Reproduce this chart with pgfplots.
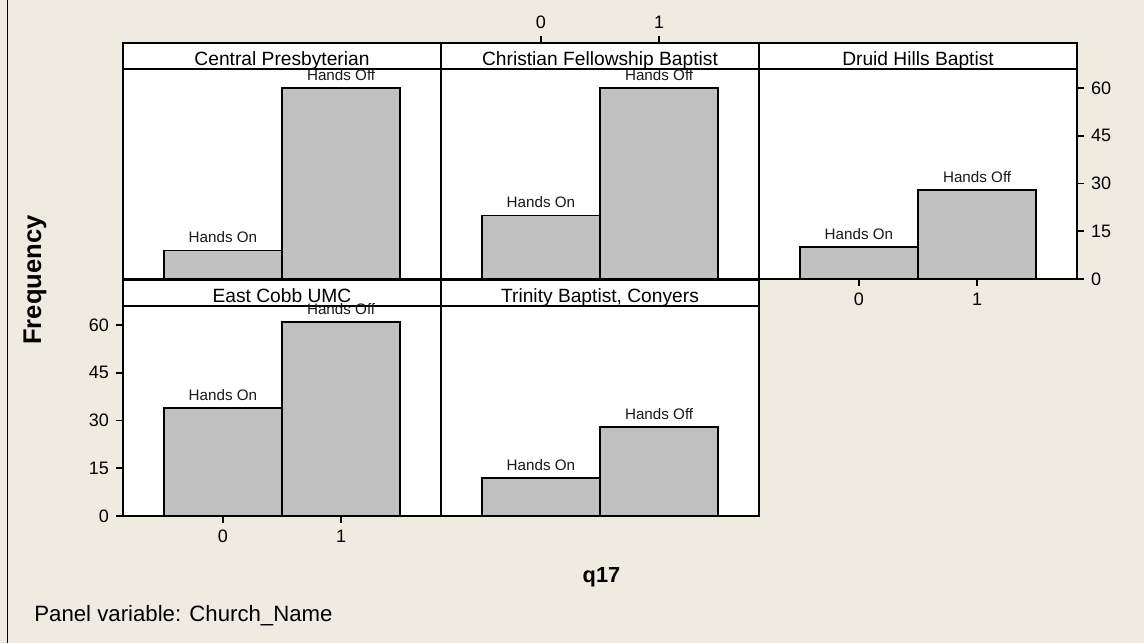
\documentclass[border=0pt]{standalone}
\usepackage{fontspec}
\setmainfont{Liberation Sans}
\usepackage{pgfplots}
\pgfplotsset{compat=1.18}
\definecolor{bg}{RGB}{239,235,224}
\definecolor{barc}{RGB}{192,192,192}
\pgfplotsset{
 panel/.style={
   scale only axis, width=159pt, height=118pt,
   xmin=-0.845, xmax=1.845, ymin=0, ymax=74.2,
   axis line style={line width=0.9pt},
   axis background/.style={fill=white},
   xtick=\empty, ytick=\empty,
   tick align=outside, major tick length=3.5pt,
   tick style={line width=0.9pt, black},
   ticklabel style={font=\fontsize{9}{10}\selectfont},
   /pgf/number format/assume math mode=true,
   ybar, bar width=1, bar shift=0pt,
   clip=false,
   nodes near coords, point meta=explicit symbolic,
   every node near coord/.append style={font=\fontsize{7.6}{8}\selectfont, text=black!90},
 },
 hbar/.style={fill=barc, draw=black, line width=0.8pt},
}
\newcommand\strip[1]{%
  \draw[line width=0.9pt] (rel axis cs:0,0.89) -- (rel axis cs:1,0.89);
  \node[font=\fontsize{9.6}{10}\selectfont, anchor=base, inner sep=0pt] at (rel axis cs:0.5,0.905) {#1};}
\begin{document}
\begin{tikzpicture}
\fill[bg] (0,0) rectangle (572pt,-321.5pt);
\draw[line width=0.7pt] (3.6pt,0) -- (3.6pt,-321.5pt);

\begin{axis}[panel, at={(61.5pt,-21.5pt)}, anchor=north west]
\addplot[hbar] coordinates {(0,9)[Hands On] (1,60)[Hands Off]};
\strip{Central Presbyterian}
\end{axis}

\begin{axis}[panel, at={(220.5pt,-21.5pt)}, anchor=north west,
  xtick={0,1}, xtick pos=upper, xticklabel pos=upper]
\addplot[hbar] coordinates {(0,20)[Hands On] (1,60)[Hands Off]};
\strip{Christian Fellowship Baptist}
\end{axis}

\begin{axis}[panel, at={(379.5pt,-21.5pt)}, anchor=north west,
  xtick={0,1}, xtick pos=lower, xticklabel pos=lower,
  ytick={0,15,30,45,60}, ytick pos=right, yticklabel pos=right]
\addplot[hbar] coordinates {(0,10)[Hands On] (1,28)[Hands Off]};
\strip{Druid Hills Baptist}
\end{axis}

\begin{axis}[panel, at={(61.5pt,-140pt)}, anchor=north west,
  xtick={0,1}, xtick pos=lower, xticklabel pos=lower,
  ytick={0,15,30,45,60}, ytick pos=left, yticklabel pos=left]
\addplot[hbar] coordinates {(0,34)[Hands On] (1,61)[Hands Off]};
\strip{East Cobb UMC}
\end{axis}

\begin{axis}[panel, at={(220.5pt,-140pt)}, anchor=north west]
\addplot[hbar] coordinates {(0,12)[Hands On] (1,28)[Hands Off]};
\strip{Trinity Baptist, Conyers}
\end{axis}

\node[rotate=90, font=\bfseries\fontsize{12.8}{14}\selectfont] at (17.5pt,-140pt) {Frequency};
\node[font=\bfseries\fontsize{10.9}{12}\selectfont] at (300.75pt,-288.5pt) {q17};
\node[anchor=base west, inner sep=0pt, font=\fontsize{11.1}{12}\selectfont] at (17pt,-310.5pt) {Panel variable: Church\_Name};
\pgfresetboundingbox
\path (0,0) rectangle (572pt,-321.5pt);
\end{tikzpicture}
\end{document}
